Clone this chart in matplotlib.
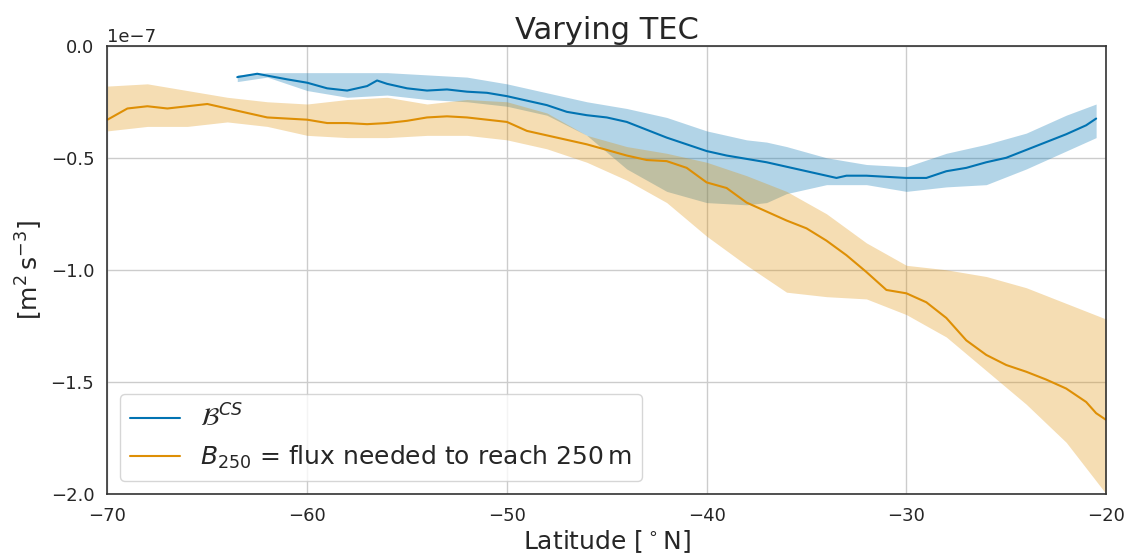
import numpy as np
import matplotlib
matplotlib.use('Agg')
import matplotlib.pyplot as plt
import seaborn as sns

sns.set_theme(style='whitegrid')
plt.rcParams['font.family'] = ['DejaVu Sans']

# blue: B^CS
lat_cs = [-63.5, -62.5, -61, -60, -59, -58, -57, -56.5, -56, -55, -54, -53, -52, -51, -50,
          -49, -48, -47, -46, -45, -44, -43, -42, -41, -40, -39, -38, -37, -36, -35, -34,
          -33.5, -33, -32, -31, -30, -29, -28, -27, -26, -25, -24, -23, -22, -21, -20.5]
b_cs = [-0.14, -0.125, -0.15, -0.165, -0.19, -0.20, -0.18, -0.155, -0.17, -0.19, -0.20,
        -0.195, -0.205, -0.21, -0.225, -0.245, -0.265, -0.295, -0.31, -0.32, -0.34, -0.375,
        -0.41, -0.44, -0.47, -0.49, -0.505, -0.52, -0.54, -0.56, -0.58, -0.59, -0.58, -0.58,
        -0.585, -0.59, -0.59, -0.56, -0.545, -0.52, -0.50, -0.465, -0.43, -0.395, -0.355, -0.325]
lat_cs_band = [-63.5, -62, -60, -58, -56, -54, -52, -50, -48, -46, -44, -42, -40, -38, -37,
               -36, -34, -32, -30, -28, -26, -24, -22, -20.5]
cs_lo = [-0.16, -0.14, -0.20, -0.23, -0.22, -0.24, -0.25, -0.27, -0.31, -0.40, -0.55, -0.65,
         -0.70, -0.71, -0.70, -0.66, -0.62, -0.62, -0.65, -0.63, -0.62, -0.55, -0.47, -0.41]
cs_hi = [-0.13, -0.12, -0.12, -0.12, -0.12, -0.13, -0.14, -0.17, -0.21, -0.25, -0.28, -0.32,
         -0.38, -0.42, -0.43, -0.45, -0.50, -0.53, -0.54, -0.48, -0.44, -0.39, -0.31, -0.26]

# orange: B_250
lat_250 = [-70, -69, -68, -67, -66, -65, -64, -63, -62, -61, -60, -59, -58, -57, -56, -55,
           -54, -53, -52, -51, -50, -49, -48, -47, -46, -45, -44, -43, -42, -41, -40, -39,
           -38, -37, -36, -35, -34, -33, -32, -31, -30, -29, -28, -27, -26, -25, -24, -23,
           -22, -21, -20.5, -20]
b_250 = [-0.33, -0.28, -0.27, -0.28, -0.27, -0.26, -0.28, -0.30, -0.32, -0.325, -0.33,
         -0.345, -0.345, -0.35, -0.345, -0.335, -0.32, -0.315, -0.32, -0.33, -0.34, -0.38,
         -0.40, -0.42, -0.44, -0.465, -0.49, -0.51, -0.515, -0.545, -0.61, -0.635, -0.70,
         -0.74, -0.78, -0.815, -0.87, -0.935, -1.01, -1.09, -1.105, -1.145, -1.215, -1.315,
         -1.38, -1.425, -1.455, -1.49, -1.53, -1.59, -1.64, -1.67]
lat_250_band = [-70, -68, -66, -64, -62, -60, -58, -56, -54, -52, -50, -48, -46, -44, -42,
                -40, -38, -36, -34, -32, -30, -28, -26, -24, -22, -20]
b250_lo = [-0.38, -0.36, -0.36, -0.34, -0.36, -0.40, -0.41, -0.41, -0.40, -0.40, -0.42, -0.46,
           -0.52, -0.60, -0.70, -0.85, -0.98, -1.10, -1.12, -1.13, -1.20, -1.30, -1.45, -1.60,
           -1.77, -2.0]
b250_hi = [-0.18, -0.17, -0.20, -0.23, -0.25, -0.26, -0.24, -0.23, -0.26, -0.24, -0.25, -0.30,
           -0.40, -0.45, -0.48, -0.52, -0.58, -0.65, -0.75, -0.88, -0.98, -1.00, -1.03, -1.08,
           -1.15, -1.22]

blue, orange = '#0173b2', '#de8f05'
s = 1e-7

fig, ax = plt.subplots(figsize=(11.31, 5.58), dpi=100)
ax.fill_between(lat_cs_band, np.array(cs_lo) * s, np.array(cs_hi) * s, color=blue, alpha=0.3, lw=0)
ax.fill_between(lat_250_band, np.array(b250_lo) * s, np.array(b250_hi) * s, color=orange, alpha=0.3, lw=0)
ax.plot(lat_cs, np.array(b_cs) * s, color=blue, lw=1.5, label=r'$\mathcal{B}^{CS}$')
ax.plot(lat_250, np.array(b_250) * s, color=orange, lw=1.5,
        label=r'$B_{250}$ = flux needed to reach 250$\,$m')

ax.set_xlim(-70, -20)
ax.set_ylim(-2e-7, 0)
ax.set_xticks([-70, -60, -50, -40, -30, -20])
ax.set_yticks(np.arange(-2.0, 0.01, 0.5) * s)
ax.tick_params(labelsize=13)
ax.yaxis.get_offset_text().set_fontsize(13)
ax.set_xlabel(r'Latitude [$^\circ$N]', fontsize=18, labelpad=2)
ax.set_ylabel(r'[m$^2\,$s$^{-3}$]', fontsize=18)
ax.set_title('Varying TEC', fontsize=22, pad=5)
for sp in ax.spines.values():
    sp.set_color('#333333')
    sp.set_linewidth(1.2)
ax.legend(loc='lower left', fontsize=18, frameon=True)

plt.subplots_adjust(left=0.095, right=0.978, top=0.918, bottom=0.115)
plt.savefig('out.png', dpi=100)
